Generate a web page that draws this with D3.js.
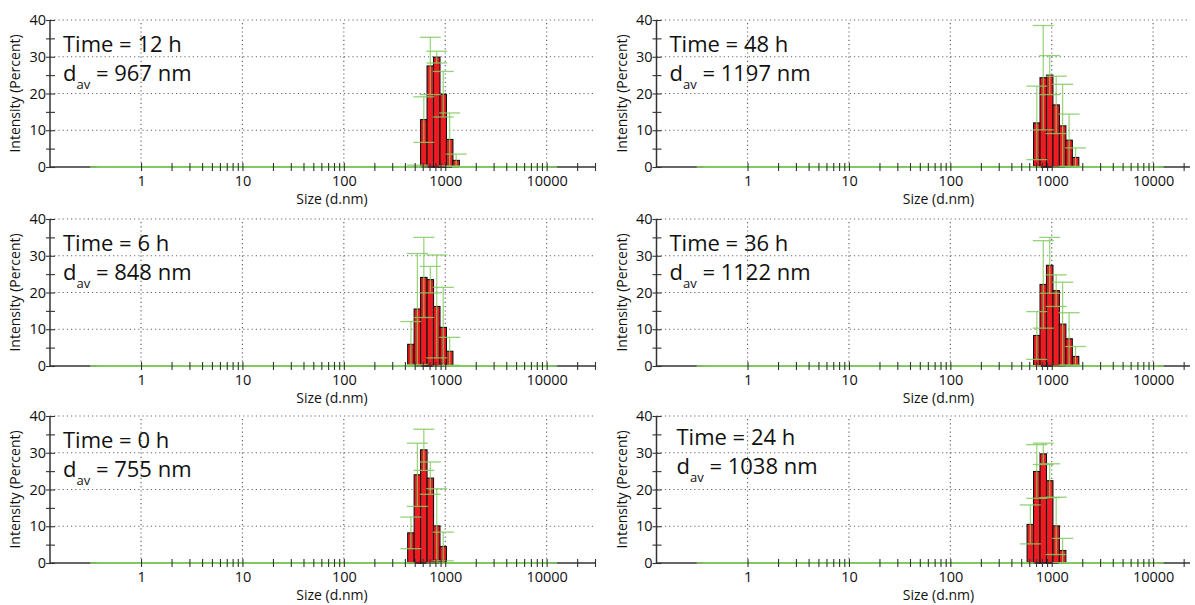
<!DOCTYPE html>
<meta charset="utf-8">
<script src="https://d3js.org/d3.v7.min.js"></script>
<style>
  body { margin: 0; background: #fff; }
  text { font-family: "Open Sans", sans-serif; fill: #111; }
</style>
<div id="my_dataviz"></div>
<script>

// Zetasizer size classes (d.nm), 70 classes
var sizeClasses = [0.4, 0.4632, 0.5365, 0.6213, 0.7195, 0.8332, 0.9649, 1.117, 1.294, 1.499,
  1.736, 2.010, 2.328, 2.696, 3.122, 3.615, 4.187, 4.849, 5.615, 6.503,
  7.531, 8.721, 10.10, 11.70, 13.54, 15.69, 18.17, 21.04, 24.36, 28.21,
  32.67, 37.84, 43.82, 50.75, 58.77, 68.06, 78.82, 91.28, 105.7, 122.4,
  141.8, 164.2, 190.1, 220.2, 255.0, 295.3, 342.0, 396.1, 458.7, 531.2,
  615.1, 712.4, 825.0, 955.4, 1106, 1281, 1484, 1718, 1990, 2305,
  2669, 3091, 3580, 4145, 4801, 5560, 6439, 7456, 8635, 10000];

// panel texts (left column top->bottom, then right column)
var panelTimes = ["12 h", "6 h", "0 h", "48 h", "36 h", "24 h"];
var panelDav   = ["967", "848", "755", "1197", "1122", "1038"];

// index into sizeClasses of the first listed value of each panel
var panelStart = [49, 48, 48, 51, 51, 50];

// intensity (%) and std deviation per class
var int12 = [0, 12.9, 27.5, 29.9, 19.8, 7.5, 1.8];
var err12 = [0.5, 6.2, 7.8, 1.6, 6.2, 7.2, 1.7];
var int6  = [5.9, 15.5, 24.1, 23.5, 16.2, 10.5, 4.0];
var err6  = [6.2, 15.1, 10.9, 3.6, 14.0, 10.9, 3.8];
var int0  = [8.2, 24.0, 30.8, 23.1, 10.1, 4.5];
var err0  = [4.3, 8.6, 5.6, 4.4, 10.1, 3.9];
var int48 = [12.0, 24.3, 25.0, 16.9, 11.2, 7.3, 2.6];
var err48 = [10.0, 14.2, 5.3, 7.8, 11.3, 7.1, 2.6];
var int36 = [8.3, 22.2, 27.4, 20.5, 11.4, 7.4, 2.6];
var err36 = [6.5, 11.9, 7.6, 4.3, 11.4, 7.1, 2.7];
var int24 = [10.5, 24.9, 29.7, 22.4, 10.1, 3.4];
var err24 = [5.3, 7.3, 2.9, 4.6, 7.8, 3.3];

var panelInt = [int12, int6, int0, int48, int36, int24];
var panelErr = [err12, err6, err0, err48, err36, err24];

var xMajor = [1, 10, 100, 1000, 10000];
var yMajor = [0, 10, 20, 30, 40];
var yMinor = [5, 15, 25, 35];

// layout
var colX = [50, 656.5], colW = [545, 533.5];
var rowY = [20, 219, 416], plotH = 147;
var capHalf = 10.5;
var textShift = [0, 0, 0, 0, 0, 7];

var svg = d3.select("#my_dataviz")
  .append("svg")
    .attr("width", 1195)
    .attr("height", 605);

var xBase = d3.scaleLog().domain([0.1265, 30000]).range([0, colW[0]]);

// minor ticks on the size axis
var xMinor = [];
[1, 10, 100, 1000, 10000].forEach(function(dec) {
  for (var k = 2; k <= 9; k++) xMinor.push(dec * k);
});
xMinor = xMinor.filter(function(v) { return v <= 30000; });

for (var p = 0; p < 6; p++) {
  var col = Math.floor(p / 3), row = p % 3;
  var w = colW[col];
  var x = d3.scaleLog().domain([0.1265, xBase.invert(w)]).range([0, w]);
  var y = d3.scaleLinear().domain([0, 40]).range([plotH, 0]);

  var g = svg.append("g")
    .attr("transform", "translate(" + colX[col] + "," + rowY[row] + ")");

  // full class series for this panel
  var data = sizeClasses.map(function(s, i) {
    var j = i - panelStart[p];
    var v = (j >= 0 && j < panelInt[p].length) ? panelInt[p][j] : 0;
    var e = (j >= 0 && j < panelErr[p].length) ? panelErr[p][j] : 0;
    var lo = i > 0 ? Math.sqrt(s * sizeClasses[i - 1]) : s / Math.sqrt(sizeClasses[1] / s);
    var hi = i < sizeClasses.length - 1 ? Math.sqrt(s * sizeClasses[i + 1]) : s * Math.sqrt(s / sizeClasses[i - 1]);
    return {s: s, v: v, e: e, lo: lo, hi: hi};
  });

  // dotted grid
  g.selectAll(".hgrid").data(yMajor.filter(function(d) { return d > 0; }))
    .enter().append("line")
      .attr("x1", 0).attr("x2", w)
      .attr("y1", function(d) { return y(d); }).attr("y2", function(d) { return y(d); })
      .attr("stroke", "#666").attr("stroke-width", 1.2)
      .attr("stroke-dasharray", "1.2,3");
  g.selectAll(".vgrid").data(xMajor)
    .enter().append("line")
      .attr("x1", function(d) { return x(d); }).attr("x2", function(d) { return x(d); })
      .attr("y1", y(0)).attr("y2", y(40))
      .attr("stroke", "#666").attr("stroke-width", 1.2)
      .attr("stroke-dasharray", "1.2,3");

  // axis lines
  g.append("line").attr("x1", 0).attr("x2", w).attr("y1", y(0)).attr("y2", y(0))
    .attr("stroke", "#333").attr("stroke-width", 1.5);
  g.append("line").attr("x1", 0).attr("x2", 0).attr("y1", y(0)).attr("y2", y(40))
    .attr("stroke", "#333").attr("stroke-width", 1.5);

  // bars
  g.selectAll(".bar").data(data.filter(function(d) { return d.v > 0; }))
    .enter().append("rect")
      .attr("x", function(d) { return x(d.lo); })
      .attr("width", function(d) { return x(d.hi) - x(d.lo); })
      .attr("y", function(d) { return y(d.v); })
      .attr("height", function(d) { return y(0) - y(d.v); })
      .attr("fill", "#ec1c22")
      .attr("stroke", "#111")
      .attr("stroke-width", 1.1);

  // error bars (green)
  var eb = g.selectAll(".err").data(data).enter().append("g");
  eb.append("line")
    .attr("x1", function(d) { return x(d.s); }).attr("x2", function(d) { return x(d.s); })
    .attr("y1", function(d) { return y(Math.max(0, d.v - d.e)); })
    .attr("y2", function(d) { return y(d.v + d.e); })
    .attr("stroke", "#84cc63").attr("stroke-width", 1.2).attr("opacity", 0.85);
  eb.append("line")
    .attr("x1", function(d) { return x(d.s) - capHalf; }).attr("x2", function(d) { return x(d.s) + capHalf; })
    .attr("y1", function(d) { return y(d.v + d.e); }).attr("y2", function(d) { return y(d.v + d.e); })
    .attr("stroke", "#84cc63").attr("stroke-width", 1.3).attr("opacity", 0.85);
  eb.append("line")
    .attr("x1", function(d) { return x(d.s) - capHalf; }).attr("x2", function(d) { return x(d.s) + capHalf; })
    .attr("y1", function(d) { return y(Math.max(0, d.v - d.e)); }).attr("y2", function(d) { return y(Math.max(0, d.v - d.e)); })
    .attr("stroke", "#84cc63").attr("stroke-width", 1.3).attr("opacity", 0.85);

  // x axis ticks and labels
  var xa = g.append("g").attr("transform", "translate(0," + y(0) + ")")
    .call(d3.axisBottom(x).tickValues(xMajor.concat(xMinor)).tickSize(4)
      .tickFormat(function(d) { return xMajor.indexOf(d) >= 0 ? d : ""; }));
  xa.select(".domain").remove();
  xa.selectAll(".tick line").attr("y1", -4).attr("stroke", "#333").attr("stroke-width", 1.1);
  xa.selectAll(".tick text").attr("y", 9).attr("font-size", "14.5px")
    .attr("font-family", "Open Sans").attr("fill", "#111");

  // y axis ticks and labels
  var ya = g.append("g")
    .call(d3.axisLeft(y).tickValues(yMajor.concat(yMinor)).tickSize(4)
      .tickFormat(function(d) { return yMajor.indexOf(d) >= 0 ? d : ""; }));
  ya.select(".domain").remove();
  ya.selectAll(".tick line").attr("x1", 5).attr("stroke", "#333").attr("stroke-width", 1.1);
  ya.selectAll(".tick text").attr("x", -4).attr("font-size", "14.5px")
    .attr("font-family", "Open Sans").attr("fill", "#111");

  // axis titles
  g.append("text")
    .attr("transform", "translate(-30," + (plotH / 2) + ") rotate(-90)")
    .attr("text-anchor", "middle")
    .attr("font-size", "14px")
    .text("Intensity (Percent)");
  g.append("text")
    .attr("x", 282).attr("y", y(0) + 37)
    .attr("text-anchor", "middle")
    .attr("font-size", "14px")
    .text("Size (d.nm)");

  // annotation
  var tx = 13 + textShift[p], ty = p === 5 ? 29 : 31.5;
  g.append("text")
    .attr("x", tx).attr("y", ty)
    .attr("font-size", "22px")
    .text("Time = " + panelTimes[p]);
  var t2 = g.append("text")
    .attr("x", tx).attr("y", ty + 29)
    .attr("font-size", "22px");
  t2.append("tspan").text("d");
  t2.append("tspan").attr("dy", 8).attr("font-size", "13px").text("av");
  t2.append("tspan").attr("dy", -8).text(" = " + panelDav[p] + " nm");
}
</script>
